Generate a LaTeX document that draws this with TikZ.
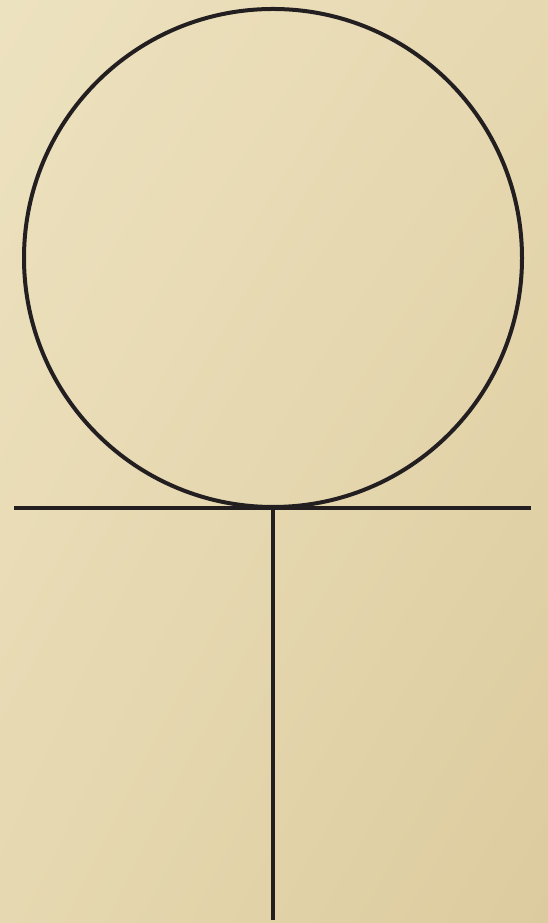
\documentclass[tikz,border=0pt]{standalone}
\usetikzlibrary{shadings}
\begin{document}
\begin{tikzpicture}[x=1pt,y=1pt,
  ink/.style={draw=inkc,line width=4pt}]
\definecolor{inkc}{HTML}{231F20}
\definecolor{paperA}{HTML}{EDE2C0}
\definecolor{paperB}{HTML}{DCCB9E}
\definecolor{paperC}{HTML}{E6D8B0}
\useasboundingbox (0,0) rectangle (548,923);
\shade[upper left=paperA,upper right=paperC,lower left=paperC,lower right=paperB] (0,0) rectangle (548,923);
\node[ink,circle,minimum size=498pt,inner sep=0pt] (c) at (273,665) {};
\coordinate (hl) at (14,415);
\coordinate (hr) at (531,415);
\coordinate (vt) at (273,415);
\coordinate (vb) at (273,3);
\draw[ink] (hl) -- (hr);
\draw[ink] (vt) -- (vb);
\end{tikzpicture}
\end{document}
